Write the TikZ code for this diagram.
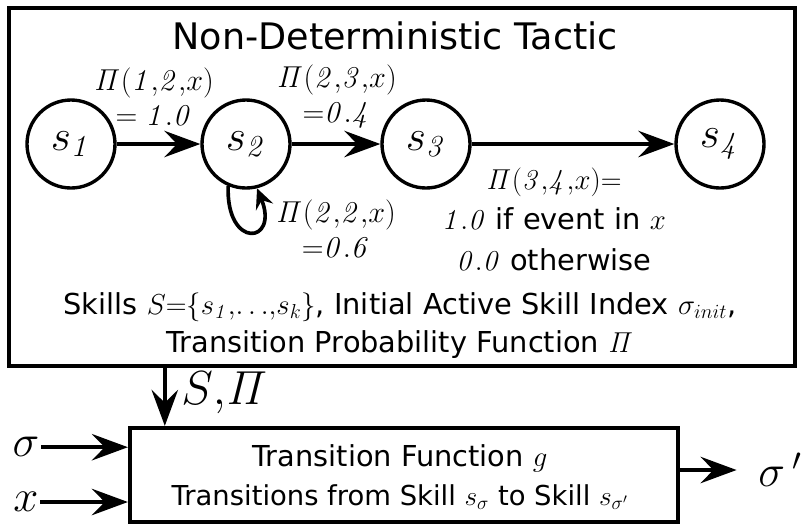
\documentclass[tikz,border=0pt]{standalone}
\usepackage{fix-cm}
\usepackage[no-math]{fontspec}
\setmainfont{DejaVu Sans}
\usetikzlibrary{arrows.meta, calc, positioning}
\newcommand{\prob}[2]{$\mathit{\Pi(#1{,}#2{,}}x\mathit{)}$}

\begin{document}
\begin{tikzpicture}[
            % ----- Styles -----
                state/.style={
                    circle, draw=black, line width=2.4pt,
                    minimum size=2.2cm, inner sep=0pt,
                    font=\fontsize{31}{36}\selectfont
                },
                box/.style={draw=black, line width=3.5pt, inner sep=0pt},
                arr/.style={-{Stealth[length=9mm, width=6.6mm, inset=3.2mm]}, line width=2.8pt},
                arrsmall/.style={-{Stealth[length=5mm, width=4.6mm, inset=1.8mm]}, line width=2.6pt},
                lbl/.style={font=\fontsize{21.5}{25}\selectfont, align=center, inner sep=1pt},
                txt/.style={font=\fontsize{20.5}{25}\selectfont, inner sep=1pt},
                big/.style={font=\fontsize{32}{38}\selectfont, inner sep=1pt}
            ]
                \useasboundingbox (0,0) rectangle (20.1,-13.125);

% ===================== Taktik-Rahmen ===========================
                \node[box, minimum width=19.65cm, minimum height=8.95cm] (tactic) at (10.05,-4.675) {};
                \node[font=\fontsize{26}{30}\selectfont] (title) at (9.88,-0.9) {Non-Deterministic Tactic};

% ===================== Skills (Zustaende) ======================
                \node[state] (s1) at (1.775,-3.6) {$s_{\mathit{1}}$};
                \node[state] (s2) at (6.15, -3.6) {$s_{\mathit{2}}$};
                \node[state] (s3) at (10.65,-3.6) {$s_{\mathit{3}}$};
                \node[state] (s4) at (18.0, -3.6) {$s_{\mathit{4}}$};

% ===================== Uebergaenge =============================
                \draw[arr] (s1) -- (s2);
                \draw[arr] (s2) -- (s3);
                \draw[arr] (s3) -- (s4);
                \draw[arrsmall] (s2.247) .. controls +(-92:1.6) and +(-68:1.5) .. (s2.284);

                \node[lbl] (p12) at (3.85,-2.42) {\prob{1}{2}\\$=\mathit{1.0}$};
                \node[lbl] (p23) at (8.42,-2.42) {\prob{2}{3}\\${=}\mathit{0.4}$};
                \node[lbl] (p22) at (8.4, -5.72) {\prob{2}{2}\\${=}\mathit{0.6}$};
                \node[lbl, font=\fontsize{20.5}{29}\selectfont] (p34) at (13.85,-5.48)
                {\prob{3}{4}${=}$\\$\mathit{1.0}$ if event in $x$\\$\mathit{0.0}$ otherwise};

                \node[txt] (skills) at (10.0,-7.68)
                {Skills $S{=}\{s_{\mathit{1}}{,}{\ldots}{,}s_k\}$, Initial Active Skill Index $\sigma_{init}$,};
                \node[txt] (pifun) at (10.0,-8.62) {Transition Probability Function $\mathit{\Pi}$};

% ===================== Transition Function =====================
                \node[box, line width=3pt, minimum width=13.7cm, minimum height=2.35cm] (trans) at (10.1,-11.875) {};
                \node[txt] (tfun) at (10.0,-11.45) {Transition Function $g$};
                \node[txt, font=\fontsize{19.5}{24}\selectfont] (tsub) at (10.0,-12.42)
                {Transitions from Skill $s_\sigma$ to Skill $s_{\sigma'}$};

% ===================== Ein- und Ausgaenge ======================
                \coordinate (sp) at (4.12,0);
                \draw[arr] (sp |- tactic.south) -- (sp |- trans.north);
                \node[big, font=\fontsize{34}{40}\selectfont] (spi) at (5.62,-9.83) {$S{,}\mathit{\Pi}$};

                \node[big] (sig) at (0.65,-11.18) {$\sigma$};
                \node[big] (xin) at (0.65,-12.55) {$x$};
                \node[big] (sigp) at (19.5,-11.75) {$\sigma\,'$};

                \draw[arr] (sig.east) -- (trans.west |- sig);
                \draw[arr] (xin.east) -- (trans.west |- xin);
                \draw[arr, shorten >=5mm] (trans.east |- sigp) -- (sigp.west);

            \end{tikzpicture}
\end{document}
